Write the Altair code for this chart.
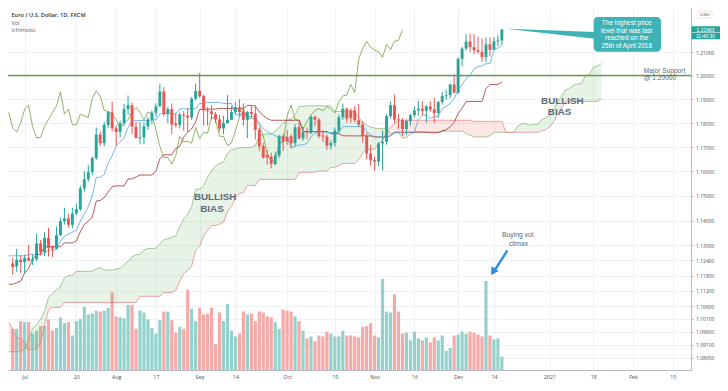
import altair as alt
import pandas as pd

# ---------------- EUR/USD daily candles, bar 0 = 26 Jun 2020 ... bar 123 = 16 Dec 2020
opens = [1.1228, 1.1216, 1.1243, 1.1234, 1.1250, 1.1239, 1.1245, 1.1308, 1.1274, 1.1330,
         1.1294, 1.1287, 1.1341, 1.1398, 1.1409, 1.1383, 1.1428, 1.1446, 1.1530, 1.1568,
         1.1597, 1.1655, 1.1752, 1.1716, 1.1792, 1.1845, 1.1778, 1.1763, 1.1799, 1.1858,
         1.1875, 1.1785, 1.1737, 1.1741, 1.1786, 1.1815, 1.1843, 1.1870, 1.1932, 1.1838,
         1.1858, 1.1798, 1.1792, 1.1836, 1.1831, 1.1823, 1.1902, 1.1935, 1.1913, 1.1853,
         1.1849, 1.1837, 1.1815, 1.1777, 1.1800, 1.1814, 1.1846, 1.1866, 1.1846, 1.1813,
         1.1846, 1.1838, 1.1772, 1.1703, 1.1668, 1.1660, 1.1630, 1.1665, 1.1744, 1.1742,
         1.1745, 1.1716, 1.1782, 1.1736, 1.1761, 1.1758, 1.1826, 1.1814, 1.1748, 1.1744,
         1.1706, 1.1717, 1.1768, 1.1824, 1.1860, 1.1852, 1.1853, 1.1812, 1.1793, 1.1746,
         1.1673, 1.1646, 1.1640, 1.1715, 1.1722, 1.1829, 1.1875, 1.1815, 1.1812, 1.1775,
         1.1808, 1.1833, 1.1853, 1.1860, 1.1851, 1.1870, 1.1857, 1.1842, 1.1888, 1.1914,
         1.1917, 1.1962, 1.1927, 1.2071, 1.2115, 1.2145, 1.2121, 1.2108, 1.2101, 1.2078,
         1.2133, 1.2110, 1.2146, 1.2150]
highs = [1.1250, 1.1286, 1.1261, 1.1263, 1.1303, 1.1263, 1.1346, 1.1322, 1.1353, 1.1371,
         1.1300, 1.1375, 1.1412, 1.1452, 1.1428, 1.1452, 1.1468, 1.1541, 1.1600, 1.1627,
         1.1660, 1.1781, 1.1765, 1.1805, 1.1850, 1.1890, 1.1790, 1.1810, 1.1880, 1.1916,
         1.1885, 1.1805, 1.1806, 1.1803, 1.1826, 1.1853, 1.1883, 1.1966, 1.1951, 1.1867,
         1.1882, 1.1842, 1.1844, 1.1850, 1.1863, 1.1910, 1.1966, 1.2011, 1.1918, 1.1868,
         1.1874, 1.1846, 1.1835, 1.1831, 1.1917, 1.1870, 1.1888, 1.1900, 1.1882, 1.1850,
         1.1872, 1.1872, 1.1781, 1.1718, 1.1687, 1.1677, 1.1682, 1.1751, 1.1755, 1.1770,
         1.1753, 1.1796, 1.1806, 1.1784, 1.1781, 1.1831, 1.1831, 1.1821, 1.1770, 1.1752,
         1.1730, 1.1781, 1.1834, 1.1881, 1.1864, 1.1861, 1.1870, 1.1880, 1.1808, 1.1760,
         1.1708, 1.1661, 1.1720, 1.1769, 1.1837, 1.1891, 1.1920, 1.1838, 1.1821, 1.1815,
         1.1838, 1.1870, 1.1894, 1.1891, 1.1874, 1.1891, 1.1906, 1.1892, 1.1931, 1.1941,
         1.1965, 1.2004, 1.2077, 1.2122, 1.2176, 1.2178, 1.2177, 1.2167, 1.2159, 1.2163,
         1.2162, 1.2163, 1.2174, 1.2200]
lows = [1.1184, 1.1195, 1.1191, 1.1191, 1.1236, 1.1222, 1.1238, 1.1260, 1.1257, 1.1256,
        1.1254, 1.1285, 1.1339, 1.1384, 1.1372, 1.1370, 1.1422, 1.1439, 1.1517, 1.1557,
        1.1585, 1.1646, 1.1704, 1.1703, 1.1779, 1.1765, 1.1705, 1.1740, 1.1788, 1.1834,
        1.1754, 1.1736, 1.1711, 1.1711, 1.1772, 1.1795, 1.1827, 1.1868, 1.1827, 1.1800,
        1.1753, 1.1782, 1.1777, 1.1768, 1.1762, 1.1812, 1.1895, 1.1905, 1.1789, 1.1789,
        1.1815, 1.1800, 1.1765, 1.1753, 1.1797, 1.1813, 1.1837, 1.1827, 1.1788, 1.1737,
        1.1823, 1.1732, 1.1683, 1.1652, 1.1627, 1.1612, 1.1625, 1.1654, 1.1685, 1.1710,
        1.1696, 1.1703, 1.1731, 1.1726, 1.1734, 1.1754, 1.1785, 1.1737, 1.1722, 1.1689,
        1.1689, 1.1703, 1.1760, 1.1813, 1.1802, 1.1801, 1.1803, 1.1785, 1.1718, 1.1650,
        1.1622, 1.1603, 1.1621, 1.1603, 1.1710, 1.1818, 1.1801, 1.1776, 1.1746, 1.1751,
        1.1788, 1.1822, 1.1831, 1.1832, 1.1801, 1.1846, 1.1800, 1.1822, 1.1878, 1.1897,
        1.1904, 1.1923, 1.1923, 1.2039, 1.2106, 1.2100, 1.2090, 1.2092, 1.2058, 1.2056,
        1.2082, 1.2110, 1.2126, 1.2130]
closes = [1.1214, 1.1243, 1.1234, 1.1250, 1.1239, 1.1245, 1.1308, 1.1274, 1.1330, 1.1289,
          1.1287, 1.1341, 1.1398, 1.1409, 1.1383, 1.1428, 1.1446, 1.1530, 1.1568, 1.1597,
          1.1655, 1.1752, 1.1716, 1.1792, 1.1845, 1.1778, 1.1763, 1.1799, 1.1858, 1.1875,
          1.1785, 1.1738, 1.1741, 1.1786, 1.1815, 1.1843, 1.1870, 1.1932, 1.1838, 1.1858,
          1.1794, 1.1792, 1.1836, 1.1831, 1.1823, 1.1902, 1.1935, 1.1913, 1.1853, 1.1849,
          1.1837, 1.1815, 1.1777, 1.1800, 1.1814, 1.1846, 1.1866, 1.1846, 1.1813, 1.1846,
          1.1838, 1.1772, 1.1703, 1.1657, 1.1657, 1.1630, 1.1665, 1.1744, 1.1722, 1.1724,
          1.1716, 1.1782, 1.1736, 1.1761, 1.1758, 1.1826, 1.1814, 1.1745, 1.1744, 1.1706,
          1.1717, 1.1768, 1.1824, 1.1860, 1.1818, 1.1822, 1.1812, 1.1793, 1.1746, 1.1673,
          1.1646, 1.1640, 1.1715, 1.1722, 1.1829, 1.1875, 1.1815, 1.1812, 1.1775, 1.1808,
          1.1833, 1.1853, 1.1860, 1.1851, 1.1870, 1.1857, 1.1842, 1.1888, 1.1914, 1.1917,
          1.1962, 1.1927, 1.2071, 1.2115, 1.2145, 1.2121, 1.2108, 1.2101, 1.2078, 1.2133,
          1.2110, 1.2146, 1.2150, 1.2196]
volumes = [43, 43, 51, 50, 50, 38, 41, 46, 46, 53, 41, 44, 55, 49, 50, 36, 51, 53, 66, 58,
           59, 62, 61, 62, 65, 81, 56, 55, 54, 68, 68, 43, 62, 60, 53, 44, 38, 52, 61, 61,
           52, 39, 45, 43, 84, 64, 51, 65, 58, 59, 65, 27, 60, 51, 69, 41, 35, 38, 61, 58,
           59, 51, 61, 60, 56, 55, 50, 43, 63, 62, 61, 56, 51, 41, 33, 35, 30, 36, 35, 40,
           38, 35, 35, 41, 36, 36, 35, 34, 45, 46, 49, 36, 34, 95, 61, 60, 79, 61, 38, 39,
           31, 40, 33, 31, 34, 29, 34, 31, 36, 20, 23, 36, 37, 40, 38, 40, 39, 37, 35, 93,
           36, 32, 33, 14]

# earlier bars (11 Mar .. 25 Jun 2020): highs / lows feeding the Ichimoku look-back windows
pre_highs = [1.1357, 1.1305, 1.1196, 1.1236, 1.1196, 1.1045, 1.0960, 1.0832, 1.0787, 1.0887,
             1.0887, 1.1031, 1.1148, 1.1115, 1.1068,
             1.1032, 1.0974, 1.0864, 1.0835, 1.0929, 1.0896, 1.0952, 1.0954, 1.0955, 1.0991,
             1.0990, 1.0926, 1.0895, 1.0925, 1.0886, 1.0877, 1.0837, 1.0829, 1.0860, 1.0891,
             1.0881, 1.0973,
             1.1019, 1.0971, 1.0915, 1.0845, 1.0845, 1.0877, 1.0852, 1.0875, 1.0866, 1.0817,
             1.0835, 1.0925, 1.0975, 1.0995, 1.1009, 1.0955, 1.0925, 1.1007, 1.1033, 1.1093,
             1.1145,
             1.1153, 1.1197, 1.1257, 1.1362, 1.1384, 1.1301, 1.1350, 1.1422, 1.1388, 1.1347,
             1.1321, 1.1348, 1.1285, 1.1259, 1.1272, 1.1284, 1.1349, 1.1329, 1.1258]
pre_lows = [1.1270, 1.1054, 1.1055, 1.1094, 1.0990, 1.0883, 1.0772, 1.0640, 1.0636, 1.0712,
            1.0760, 1.0872, 1.0953, 1.0968, 1.0925,
            1.0905, 1.0849, 1.0774, 1.0768, 1.0803, 1.0832, 1.0830, 1.0915, 1.0885, 1.0900,
            1.0882, 1.0814, 1.0812, 1.0845, 1.0817, 1.0822, 1.0756, 1.0727, 1.0810, 1.0818,
            1.0810, 1.0854,
            1.0925, 1.0890, 1.0820, 1.0795, 1.0782, 1.0808, 1.0795, 1.0805, 1.0807, 1.0775,
            1.0780, 1.0812, 1.0885, 1.0902, 1.0945, 1.0870, 1.0882, 1.0895, 1.0958, 1.0997,
            1.1068,
            1.1104, 1.1110, 1.1170, 1.1213, 1.1270, 1.1238, 1.1253, 1.1328, 1.1297, 1.1218,
            1.1168, 1.1234, 1.1222, 1.1204, 1.1168, 1.1176, 1.1249, 1.1236, 1.1181]

# axis labels
date_tick_bars = [3, 16, 26, 36, 47, 56, 69, 81, 91, 101, 112, 121, 135, 146, 156, 166]
date_tick_labels = ["Jul", "20", "Aug", "17", "Sep", "14", "Oct", "19", "Nov", "16",
                    "Dec", "14", "2021", "18", "Feb", "15"]
price_ticks = [1.086, 1.091, 1.096, 1.101, 1.106, 1.112, 1.118, 1.124, 1.13, 1.14,
               1.15, 1.16, 1.17, 1.18, 1.19, 1.20, 1.21]

# annotations
support_level = 1.20
last_price = 1.21963
bias_bars = [50.9, 50.1, 138.2, 137.5]
bias_prices = [1.1494, 1.1448, 1.1894, 1.1847]
bias_texts = ["BULLISH", "BIAS", "BULLISH", "BIAS"]
support_texts = ["Major Support", "@ 1.20000"]
support_prices = [1.2020, 1.1989]
callout_texts = ["The highest price", "level that was last", "reached  on the", "25th of April 2018"]
callout_prices = [1.22244, 1.21921, 1.21600, 1.21279]
climax_texts = ["Buying vol.", "climax"]
climax_prices = [1.1342, 1.1306]

assert all(len(a) == 124 for a in [opens, highs, lows, closes, volumes])
assert len(pre_highs) == 77 and len(pre_lows) == 77

W, H = 683, 362
FONT = "Open Sans"
NFONT = "Liberation Sans"
UP, DOWN = "#26a69a", "#ef5350"
VOL_UP, VOL_DOWN = "#93d2cc", "#f6a9a7"
GRID = "#eef0f4"
AX = "#b7bac2"
NOTE = "#5b6a79"
TEAL = "#3fb2b8"

n = len(closes)
bars = pd.DataFrame({"bar": list(range(n)), "open": opens, "high": highs,
                     "low": lows, "close": closes, "volume": volumes})

# Ichimoku (9, 26, 52, displacement 26)
Hs = pd.Series(pre_highs + highs, index=range(-len(pre_highs), n), dtype=float)
Ls = pd.Series(pre_lows + lows, index=range(-len(pre_lows), n), dtype=float)


def mid(p):
    return (Hs.rolling(p).max() + Ls.rolling(p).min()) / 2


tenkan = mid(9)
kijun = mid(26)
span_a = (tenkan + kijun) / 2
span_b = mid(52)
shift = 25

lines = pd.DataFrame({"bar": list(range(-1, n)),
                      "tenkan": tenkan.loc[-1:].values,
                      "kijun": kijun.loc[-1:].values})
cloud = pd.DataFrame({"bar": [s + shift for s in range(-1 - shift, n)],
                      "a": span_a.loc[-1 - shift:].values,
                      "b": span_b.loc[-1 - shift:].values}).dropna()
cloud["lo"] = cloud[["a", "b"]].min(axis=1)
lag = pd.DataFrame({"bar": [i - shift for i in range(shift - 1, n)],
                    "close": closes[shift - 1:]})

label_expr = ("[" + ",".join("'%s'" % t for t in date_tick_labels) + "][indexof(["
              + ",".join(str(b) for b in date_tick_bars) + "], datum.value)]")
xaxis = alt.Axis(values=date_tick_bars, labelExpr=label_expr, grid=True, gridColor=GRID,
                 ticks=False, domainColor=AX, labelFontSize=5.3, labelColor="#4c4f57",
                 labelFont=FONT, labelPadding=4.5, title=None, labelOverlap=False,
                 labelFlush=False)
yaxis = alt.Axis(orient="right", values=price_ticks, format=".5f", grid=True, gridColor=GRID,
                 tickSize=2, tickColor=AX, domainColor=AX, labelFontSize=5.0,
                 labelColor="#4c4f57", labelFont=FONT, labelPadding=2.5, title=None,
                 labelOverlap=False)


def XS():
    return alt.X("bar:Q", scale=alt.Scale(domain=[0.07, 169.3], nice=False, zero=False), axis=xaxis)


def YS(field, axis=None):
    return alt.Y(field, scale=alt.Scale(type="log", domain=[1.0813, 1.2290], nice=False, zero=False),
                 axis=axis)


is_up = alt.datum.close >= alt.datum.open
candle_color = alt.when(is_up).then(alt.value(UP)).otherwise(alt.value(DOWN))

# price axis carrier (grid + labels), drawn first
axis_layer = alt.Chart(bars).mark_rule(opacity=0).encode(
    x=XS(), y=YS("low:Q", yaxis), y2="high:Q")

vol = alt.Chart(bars).mark_bar(size=3.2, clip=True).encode(
    x=XS(),
    y=alt.Y("volume:Q", scale=alt.Scale(domain=[0, 378], nice=False), axis=None),
    color=alt.when(is_up).then(alt.value(VOL_UP)).otherwise(alt.value(VOL_DOWN)),
)

cloud_up = alt.Chart(cloud).mark_area(color="#43a047", fillOpacity=0.13, clip=True).encode(
    x=XS(), y=YS("a:Q"), y2="lo:Q")
cloud_dn = alt.Chart(cloud).mark_area(color="#f44336", fillOpacity=0.13, clip=True).encode(
    x=XS(), y=YS("b:Q"), y2="lo:Q")
line_a = alt.Chart(cloud).mark_line(color="#7fb36d", strokeWidth=0.7, clip=True).encode(
    x=XS(), y=YS("a:Q"))
line_b = alt.Chart(cloud).mark_line(color="#e57b7b", strokeWidth=0.7, clip=True).encode(
    x=XS(), y=YS("b:Q"))

support = alt.Chart(pd.DataFrame({"level": [support_level]})).mark_rule(
    color="#6b9b49", strokeWidth=1.3).encode(y=YS("level:Q"))

chikou = alt.Chart(lag).mark_line(color="#72a043", strokeWidth=0.8, clip=True).encode(
    x=XS(), y=YS("close:Q"))
kij = alt.Chart(lines).mark_line(color="#a2302f", strokeWidth=0.8, clip=True).encode(
    x=XS(), y=YS("kijun:Q"))
ten = alt.Chart(lines).mark_line(color="#4ea6e3", strokeWidth=0.8, clip=True).encode(
    x=XS(), y=YS("tenkan:Q"))

wicks = alt.Chart(bars).mark_rule(strokeWidth=1, clip=True).encode(
    x=XS(), y=YS("low:Q"), y2="high:Q", color=candle_color)
bodies = alt.Chart(bars).mark_bar(size=2.9, clip=True).encode(
    x=XS(), y=YS("open:Q"), y2="close:Q", color=candle_color)

# ---- annotations
bias = alt.Chart(pd.DataFrame({"bar": bias_bars, "price": bias_prices, "t": bias_texts})).mark_text(
    font=NFONT, fontSize=9.8, fontWeight="bold", color=NOTE).encode(
    x=XS(), y=YS("price:Q"), text="t:N")

sup_txt = alt.Chart(pd.DataFrame({"bar": [158.7, 158.7], "price": support_prices,
                                  "t": support_texts})).mark_text(
    font=NFONT, fontSize=6.6, color=NOTE, align="left").encode(
    x=XS(), y=YS("price:Q"), text="t:N")

box = alt.Chart(pd.DataFrame({"bar": [146.1], "x2": [163.0], "p1": [1.2251], "p2": [1.2101]})).mark_rect(
    color=TEAL, cornerRadius=4).encode(
    x=XS(), x2="x2:Q", y=YS("p1:Q"), y2="p2:Q")
pointer = alt.Chart(pd.DataFrame({"bar": [123.97, 146.4], "p1": [1.2200, 1.2186],
                                  "p2": [1.2200, 1.2157]})).mark_area(color=TEAL, clip=True).encode(
    x=XS(), y=YS("p1:Q"), y2="p2:Q")
box_txt = alt.Chart(pd.DataFrame({"bar": [154.4] * 4, "price": callout_prices,
                                  "t": callout_texts})).mark_text(
    font=NFONT, fontSize=6.5, color="white").encode(
    x=XS(), y=YS("price:Q"), text="t:N")

climax_txt = alt.Chart(pd.DataFrame({"bar": [127.2, 127.2], "price": climax_prices,
                                     "t": climax_texts})).mark_text(
    font=NFONT, fontSize=6.8, color=NOTE).encode(
    x=XS(), y=YS("price:Q"), text="t:N")
arrow_line = alt.Chart(pd.DataFrame({"bar": [124.4, 121.2], "price": [1.1280, 1.1202]})).mark_line(
    color="#2a8fe0", strokeWidth=2.4, clip=True).encode(
    x=XS(), y=YS("price:Q"))
arrow_head = alt.Chart(pd.DataFrame({"bar": [120.8], "price": [1.1195]})).mark_point(
    shape="triangle-down", filled=True, size=75, angle=33, color="#2a8fe0", opacity=1).encode(
    x=XS(), y=YS("price:Q"))

# current price tag on the price axis
one = pd.DataFrame({"k": [0]})
tag = alt.Chart(pd.DataFrame({"p1": [1.2211, 1.2183], "p2": [1.2185, 1.2155]})).mark_rect(
    color=UP).encode(x=alt.value(W + 0.5), x2=alt.value(W + 29), y=YS("p1:Q"), y2="p2:Q")
tag_txt = alt.Chart(pd.DataFrame({"price": [last_price, 1.2169],
                                  "t": ["%.5f" % last_price, "11:40:30"]})).mark_text(
    font=NFONT, fontSize=5.0, color="white").encode(
    x=alt.value(W + 14.5), y=YS("price:Q"), text="t:N")
usd_box = alt.Chart(one).mark_rect(fill="white", stroke="#d1d4dc", strokeWidth=0.6,
                                   cornerRadius=1).encode(
    x=alt.value(W + 7), x2=alt.value(W + 21), y=alt.value(3), y2=alt.value(9.8))
usd_txt = alt.Chart(one).mark_text(font=NFONT, fontSize=4.4, color="#555").encode(
    x=alt.value(W + 14), y=alt.value(6.5), text=alt.value("USD"))

legend1 = alt.Chart(one).mark_text(font=FONT, fontSize=5.6, color="#2f3238", align="left",
                                   fontWeight=600).encode(
    x=alt.value(3.5), y=alt.value(6.5), text=alt.value("Euro / U.S. Dollar, 1D, FXCM"))
legend2 = alt.Chart(one).mark_text(font=FONT, fontSize=5.6, color="#555a63", align="left").encode(
    x=alt.value(3.5), y=alt.value(14.6), text=alt.value("Vol"))
legend3 = alt.Chart(one).mark_text(font=FONT, fontSize=5.6, color="#555a63", align="left").encode(
    x=alt.value(3.5), y=alt.value(22.4), text=alt.value("Ichimoku"))

# every price layer carries an identical explicit log scale, so the y scales can stay
# independent (needed for the volume overlay) and still line up exactly
chart = alt.layer(
    axis_layer, vol, cloud_up, cloud_dn, line_a, line_b, support, chikou, kij, ten, wicks, bodies,
    bias, sup_txt, pointer, box, box_txt, climax_txt, arrow_line, arrow_head,
    tag, tag_txt, usd_box, usd_txt, legend1, legend2, legend3,
).resolve_scale(y="independent").properties(
    width=W, height=H,
    padding={"left": 0, "top": 0, "right": 29, "bottom": 13},
    autosize=alt.AutoSizeParams(type="none"),
    background="white",
).configure_view(stroke=None)

chart.save("out.html", embed_options={"renderer": "svg", "actions": False})
